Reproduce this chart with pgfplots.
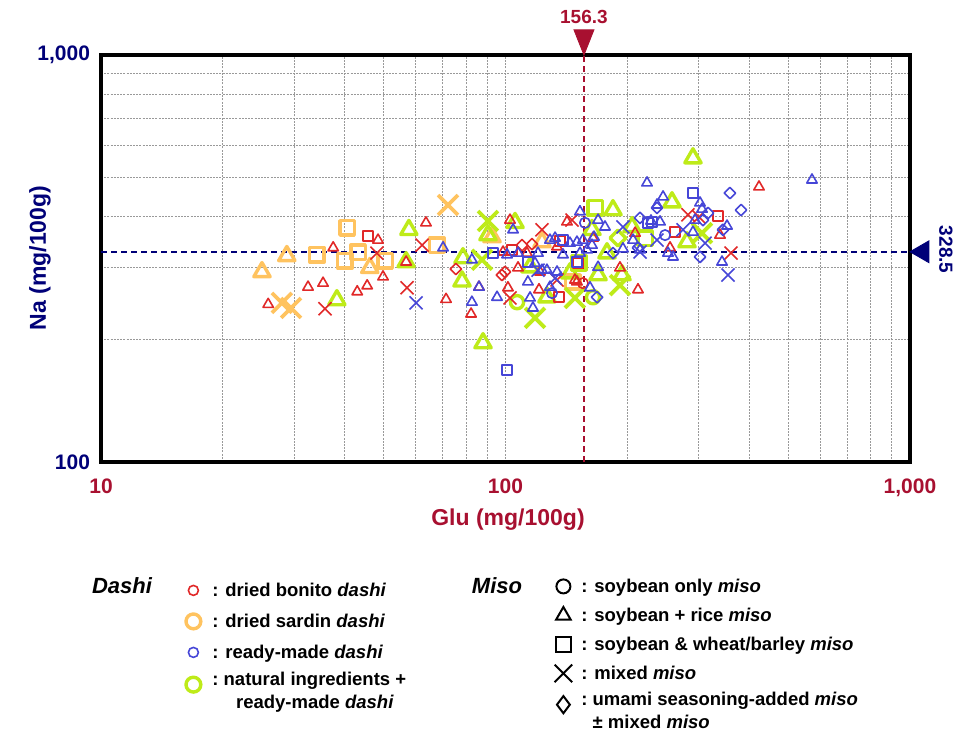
\documentclass[border=0pt]{standalone}
\usepackage{fontspec}
\setmainfont{Liberation Sans}
\usepackage{pgfplots}
\pgfplotsset{compat=1.18}
\definecolor{crim}{RGB}{168,16,48}
\definecolor{navy}{RGB}{0,0,120}
\definecolor{cR}{RGB}{225,40,40}
\definecolor{cO}{RGB}{255,195,95}
\definecolor{cB}{RGB}{70,70,215}
\definecolor{cG}{RGB}{190,235,25}
\newcommand\tickfont{\fontsize{10.5}{12}\selectfont\bfseries}
\newcommand\labfont{\fontsize{11.5}{13}\selectfont\bfseries}
\newcommand\legfont{\fontsize{9.25}{11.5}\selectfont\bfseries}
\pgfplotsset{
  sm/.style={only marks, line width=0.8pt, line join=round, mark options={solid, fill=none}},
  bg/.style={only marks, line width=1.7pt, line join=round, mark options={solid, fill=none}},
  legimg/.style={legend image code/.code={\path[draw=none, fill=none] (-8pt,-1pt) rectangle (8pt,1pt); \path[##1, draw=none] plot[mark options={draw=.}] coordinates {(0pt,0pt)};}},
}
\begin{document}
\begin{tikzpicture}
\path[use as bounding box] (0pt,0pt) rectangle (477.5pt,367.5pt);
\begin{axis}[
  at={(50.5pt,136.5pt)}, anchor=south west,
  scale only axis, width=404.5pt, height=203.5pt,
  xmode=log, ymode=log,
  xmin=10, xmax=1000, ymin=100, ymax=1000,
  xtick={10,100,1000}, xticklabels={10,100,{1,000}},
  ytick={100,1000}, yticklabels={100,{1,000}},
  major tick length=0pt, minor tick length=0pt,
  xminorgrids=true, yminorgrids=true,
  minor grid style={black!40, line width=0.45pt, dash pattern=on 1pt off 0.6pt},
  axis line style={line width=1.7pt, black},
  xticklabel style={font=\tickfont, text=crim, yshift=-5pt},
  yticklabel style={font=\tickfont, text=navy, xshift=-2pt},
  clip=false,
]
% reference lines
\addplot[crim, line width=1pt, dash pattern=on 3pt off 2pt] coordinates {(156.3,100) (156.3,1000)};
\addplot[navy, line width=1.1pt, dash pattern=on 3pt off 2pt] coordinates {(10,328.5) (1000,328.5)};
% orange (dried sardin dashi)
\addplot[bg, cO, mark=triangle, mark size=4.7pt] coordinates {(25.0,293) (28.8,321) (46.2,300) (92.6,357) (123.1,347)};
\addplot[bg, cO, mark=square, mark size=3.6pt] coordinates {(34.2,323) (40.6,376) (40.1,312) (43.2,328) (50.4,312) (67.7,341) (146.8,277)};
\addplot[bg, cO, mark=x, mark size=7pt, line width=1.9pt] coordinates {(28.0,246) (29.5,239) (72.1,428)};
% green (natural ingredients + ready-made dashi)
\addplot[bg, cG, mark=triangle, mark size=4.7pt] coordinates {(38.3,250) (57.7,372) (56.8,310) (78.5,317) (78.1,278) (90.5,361) (88.0,196) (105.6,387) (115.0,301) (126.6,254) (144.3,291) (184.4,416) (163.6,372) (169.4,288) (194.1,288) (205.5,378) (178.2,326) (258.0,435) (281.0,347) (290.7,558)};
\addplot[bg, cG, mark=square, mark size=3.6pt] coordinates {(166.5,421) (221.3,355) (151.9,308)};
\addplot[bg, cG, mark=x, mark size=7pt, line width=1.9pt] coordinates {(90.5,391) (87.5,314) (118.3,226) (148.5,253) (191.9,272) (306.1,365)};
\addplot[bg, cG, mark=o, mark size=3.3pt] coordinates {(106.8,247) (164.6,254)};
\addplot[bg, cG, mark=square, mark size=2.8pt, mark options={rotate=45}] coordinates {(189.7,355)};
% red (dried bonito dashi)
\addplot[sm, cR, mark=triangle, mark size=3pt] coordinates {(25.9,244) (32.5,269) (35.4,275) (37.5,336) (48.4,351) (49.8,285) (43.0,262) (45.5,271) (63.6,387) (56.8,310) (71.3,251) (82.2,231) (86.0,269) (102.6,393) (141.9,389) (98.6,328) (113.0,326) (134.1,338) (107.4,300) (121.0,265) (101.4,268) (121.7,293) (148.5,280) (164.6,355) (191.9,300) (212.6,265) (209.1,365) (255.1,336) (339.1,361) (423.4,474) (150.2,277)};
\addplot[sm, cR, mark=square, mark size=2.5pt] coordinates {(45.7,359) (103.8,332) (136.4,349) (135.6,254) (151.1,308) (262.5,367) (335.2,402)};
\addplot[sm, cR, mark=x, mark size=4.6pt] coordinates {(35.8,238) (48.1,326) (62.2,341) (57.1,268) (123.1,372) (146.0,393) (134.1,280) (102.6,253) (282.6,405) (300.9,400) (361.0,326)};
\addplot[sm, cR, mark=square, mark size=2pt, mark options={rotate=45}] coordinates {(75.4,298) (98.0,288) (99.7,293) (109.9,341) (116.3,343)};
\addplot[sm, cR, mark=o, mark size=2.6pt] coordinates {(155.4,275)};
% blue (ready-made dashi)
\addplot[sm, cB, mark=triangle, mark size=3pt] coordinates {(70.1,336) (82.6,314) (86.0,269) (82.6,247) (95.3,254) (104.4,372) (100.9,323) (107.4,326) (118.3,308) (123.1,296) (126.6,296) (132.6,355) (128.8,351) (134.1,293) (113.6,277) (128.8,269) (115.0,253) (116.9,239) (144.3,345) (150.2,347) (152.8,412) (155.4,351) (159.0,332) (163.6,341) (169.4,393) (176.2,378) (165.5,357) (169.4,301) (161.8,268) (206.7,351) (195.2,334) (223.8,485) (236.9,428) (245.2,448) (241.0,389) (228.9,391) (252.2,326) (259.5,319) (294.1,393) (302.6,433) (306.1,418) (290.7,367) (352.9,380) (343.0,310) (572.4,493) (138.7,323) (152.8,326) (120.3,326) (215.1,332)};
\addplot[sm, cB, mark=square, mark size=2.5pt] coordinates {(93.1,326) (100.9,168) (113.6,310) (138.7,351) (150.2,310) (225.1,387) (230.3,389) (290.7,458)};
\addplot[sm, cB, mark=x, mark size=4.6pt] coordinates {(60.1,246) (120.3,296) (132.6,283) (195.2,378) (236.9,351) (274.7,372) (311.4,345) (354.9,288) (215.1,328)};
\addplot[sm, cB, mark=o, mark size=2.6pt] coordinates {(157.2,387) (130.3,260) (248.0,361)};
\addplot[sm, cB, mark=square, mark size=2pt, mark options={rotate=45}] coordinates {(358.9,458) (382.2,416) (215.1,398) (236.9,421) (316.7,409) (307.8,393) (344.9,372) (302.6,319) (168.4,254) (184.4,326) (212.6,336)};
% average markers
\addplot[only marks, mark=triangle*, crim, mark size=5.8pt, mark options={yshift=8.4pt, rotate=180, yscale=1.45}] coordinates {(156.3,1000)};
\addplot[only marks, mark=triangle*, navy, mark size=6.3pt, mark options={xshift=6.3pt, rotate=90}] coordinates {(1000,328.5)};
\node[font=\fontsize{9.5}{11}\selectfont\bfseries, text=crim] at ([yshift=19pt]axis cs:156.3,1000) {156.3};
\node[font=\fontsize{9.5}{11}\selectfont\bfseries, text=navy, rotate=-90] at ([xshift=18pt,yshift=1pt]axis cs:1000,328.5) {328.5};
\end{axis}
% axis titles
\node[font=\labfont, text=crim] at (254pt,107.5pt) {Glu (mg/100g)};
\node[font=\labfont, text=navy, rotate=90] at (20pt,238.5pt) {Na (mg/100g)};
% legend titles
\node[font=\fontsize{11}{13}\selectfont\bfseries\itshape] at (61pt,74.5pt) {Dashi};
\node[font=\fontsize{11}{13}\selectfont\bfseries\itshape] at (248.5pt,74.5pt) {Miso};
% Dashi legend
\begin{axis}[at={(88.5pt,79.5pt)}, anchor=north west, scale only axis, width=1pt, height=1pt, hide axis,
  xmin=0, xmax=1, ymin=0, ymax=1,
  legend cell align=left,
  legend style={at={(0,1)}, anchor=north west, draw=none, fill=none, inner sep=0pt, row sep=1.5pt,
    font=\legfont, nodes={inner xsep=1.5pt, inner ysep=0pt, minimum height=14pt}}]
\addlegendimage{legimg, only marks, cR, mark=o, mark size=2.5pt, line width=0.8pt}
\addlegendentry{\strut: dried bonito \textit{dashi}}
\addlegendimage{legimg, only marks, cO, mark=o, mark size=3.7pt, line width=1.7pt}
\addlegendentry{\strut: dried sardin \textit{dashi}}
\addlegendimage{legimg, only marks, cB, mark=o, mark size=2.5pt, line width=0.8pt}
\addlegendentry{\strut: ready-made \textit{dashi}}
\addlegendimage{legimg, only marks, cG, mark=o, mark size=3.7pt, line width=1.7pt}
\addlegendentry{\begin{tabular}{@{}l@{\ }c@{}}: & natural ingredients +\\ & ready-made \textit{dashi}\end{tabular}}
\end{axis}
% Miso legend
\begin{axis}[at={(273.5pt,81pt)}, anchor=north west, scale only axis, width=1pt, height=1pt, hide axis,
  xmin=0, xmax=1, ymin=0, ymax=1,
  legend cell align=left,
  legend style={at={(0,1)}, anchor=north west, draw=none, fill=none, inner sep=0pt, row sep=1.5pt,
    font=\legfont, nodes={inner xsep=1pt, inner ysep=0pt, minimum height=13pt}}]
\addlegendimage{legimg, only marks, black, mark=o, mark size=3.5pt, line width=1pt}
\addlegendentry{\strut: soybean only \textit{miso}}
\addlegendimage{legimg, only marks, black, mark=triangle, mark size=4.2pt, line width=1pt}
\addlegendentry{\strut: soybean + rice \textit{miso}}
\addlegendimage{legimg, only marks, black, mark=square, mark size=3.7pt, line width=1pt}
\addlegendentry{\strut: soybean \& wheat/barley \textit{miso}}
\addlegendimage{legimg, only marks, black, mark=x, mark size=6.2pt, line width=1pt}
\addlegendentry{\strut: mixed \textit{miso}}
\addlegendimage{legimg, only marks, black, mark=diamond, mark size=4.3pt, line width=1pt}
\addlegendentry{\begin{tabular}{@{}l@{\ }l@{}}: & umami seasoning-added \textit{miso}\\ & ± mixed \textit{miso}\end{tabular}}
\end{axis}
\end{tikzpicture}
\end{document}
